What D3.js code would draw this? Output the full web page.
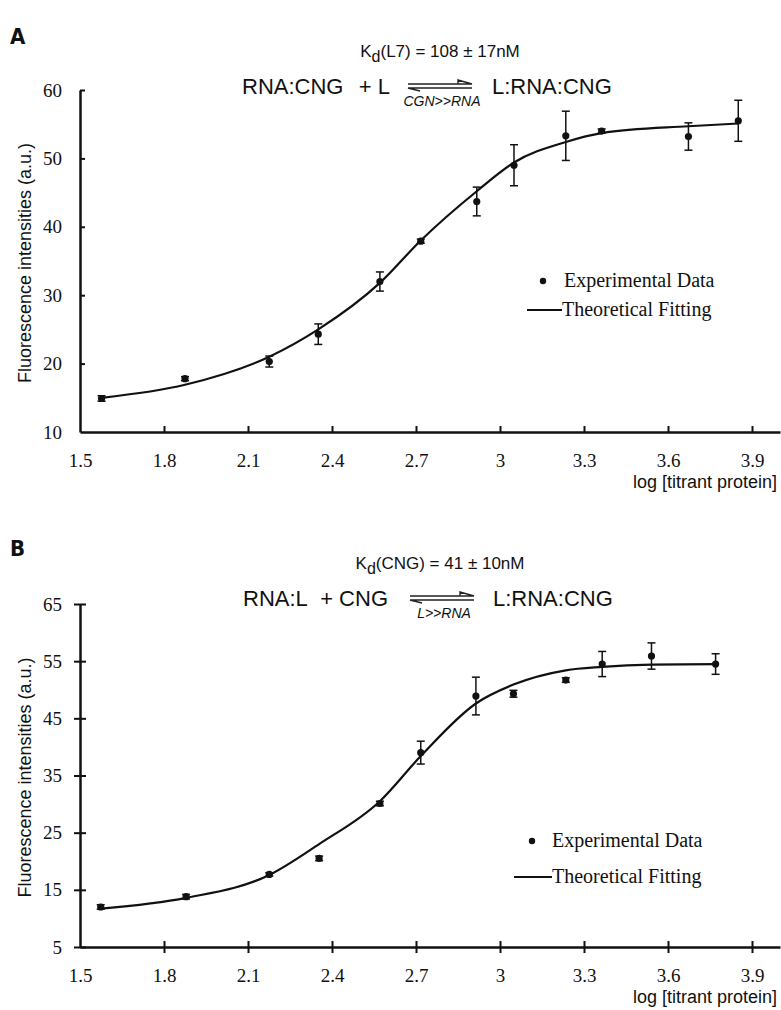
<!DOCTYPE html>
<html>
<head>
<meta charset="utf-8">
<script src="https://cdn.jsdelivr.net/npm/d3@7"></script>
<style>
  body { margin: 0; background: #fff; }
  .tick text { font-family: "Liberation Serif", "Times New Roman", serif; font-size: 19px; fill: #111; }
  .sans { font-family: "Liberation Sans", Arial, sans-serif; fill: #111; }
  .serif { font-family: "Liberation Serif", "Times New Roman", serif; fill: #111; }
</style>
</head>
<body>
<div id="chart"></div>
<script>
// x positions shared by both titrations (log [titrant protein])
const xTicks = [1.5, 1.8, 2.1, 2.4, 2.7, 3, 3.3, 3.6, 3.9];

// Panel A: L7 titration
const xA = [1.577, 1.875, 2.176, 2.351, 2.571, 2.717, 2.917, 3.05, 3.235, 3.363, 3.673, 3.851];
const yA = [14.9, 17.8, 20.3, 24.3, 32.0, 37.9, 43.7, 49.0, 53.3, 54.0, 53.2, 55.5];
const errA = [0.4, 0.3, 0.8, 1.5, 1.4, 0.3, 2.1, 3.0, 3.6, 0.3, 2.0, 3.0];
const fitA = [15.0, 16.9, 21.0, 25.0, 31.8, 38.0, 45.2, 49.4, 52.4, 53.7, 54.7, 55.1];
const yTicksA = [10, 20, 30, 40, 50, 60];

// Panel B: CNG titration
const xB = [1.574, 1.879, 2.176, 2.354, 2.571, 2.717, 2.914, 3.048, 3.235, 3.365, 3.541, 3.77];
const yB = [12.0, 13.8, 17.7, 20.5, 30.1, 39.0, 48.9, 49.3, 51.7, 54.5, 55.9, 54.5];
const errB = [0.4, 0.4, 0.3, 0.4, 0.4, 2.0, 3.3, 0.6, 0.4, 2.2, 2.3, 1.8];
const fitB = [11.7, 13.6, 17.6, 23.0, 30.5, 38.4, 47.6, 50.9, 53.4, 54.0, 54.4, 54.5];
const yTicksB = [5, 15, 25, 35, 45, 55, 65];

const svg = d3.select("#chart").append("svg").attr("width", 781).attr("height", 1010);

const panels = [
  { letter: "A", xs: xA, ys: yA, err: errA, fit: fitA, yTicks: yTicksA,
    y0: 432, y1: 90, eqY: 94,
    kd: "(L7) = 108 ± 17nM", left: "RNA:CNG", plus: "+ L", cond: "CGN>>RNA",
    leftX: 242, plusEnd: 390, arrowX: 408, rightX: 492, crossTicks: false,
    legend: { dotX: 543, dotY: 281, textX: 564, lineX0: 527, lineX1: 562, lineY: 310 } },
  { letter: "B", xs: xB, ys: yB, err: errB, fit: fitB, yTicks: yTicksB,
    y0: 947, y1: 604, eqY: 606,
    kd: "(CNG) = 41 ± 10nM", left: "RNA:L", plus: "+ CNG", cond: "L>>RNA",
    leftX: 243, plusEnd: 388, arrowX: 410, rightX: 493, crossTicks: true,
    legend: { dotX: 532, dotY: 841, textX: 552, lineX0: 514, lineX1: 552, lineY: 877 } }
];

panels.forEach(p => {
  const x = d3.scaleLinear().domain([1.5, 4.0]).range([80, 780]);
  const y = d3.scaleLinear().domain(d3.extent(p.yTicks)).range([p.y0, p.y1]);
  const g = svg.append("g");

  // axes
  const xAxis = d3.axisBottom(x).tickValues(xTicks).tickFormat(d3.format("")).tickSizeOuter(0);
  const yAxis = d3.axisLeft(y).tickValues(p.yTicks).tickSizeOuter(0);
  if (p.crossTicks) {
    xAxis.tickSizeInner(6).tickPadding(16);
    yAxis.tickSizeInner(6).tickPadding(12);
  } else {
    xAxis.tickSizeInner(-6).tickPadding(22);
    yAxis.tickSizeInner(-5).tickPadding(18);
  }
  const gx = g.append("g").attr("transform", `translate(0,${p.y0})`).call(xAxis);
  const gy = g.append("g").attr("transform", "translate(80,0)").call(yAxis);
  [gx, gy].forEach(a => {
    a.select(".domain").attr("stroke", "#111").attr("stroke-width", 2.5);
    a.selectAll(".tick line").attr("stroke", "#111").attr("stroke-width", 2);
  });
  gx.selectAll(".tick").filter(d => d === 1.5).select("line").remove();
  if (p.crossTicks) {
    gx.selectAll(".tick line").attr("y1", -6);
    gy.selectAll(".tick line").attr("x1", 6);
  } else {
    gy.selectAll(".tick").filter(d => d === p.yTicks[0]).select("line").remove();
  }

  // axis titles
  svg.append("text").attr("class", "sans")
    .attr("transform", `translate(31,${(p.y0 + p.y1) / 2 + 2}) rotate(-90)`)
    .attr("text-anchor", "middle").attr("font-size", 18)
    .text("Fluorescence intensities (a.u.)");
  svg.append("text").attr("class", "sans")
    .attr("x", 777).attr("y", p.y0 + 56).attr("text-anchor", "end").attr("font-size", 18)
    .text("log [titrant protein]");

  // panel letter, Kd and reaction scheme
  svg.append("text").attr("x", 10).attr("y", p.eqY - 50)
    .attr("font-family", "'DejaVu Sans Condensed', 'DejaVu Sans', sans-serif")
    .attr("font-weight", "bold").attr("font-size", 22).attr("fill", "#111").text(p.letter);
  const kd = svg.append("text").attr("class", "sans").attr("x", 440).attr("y", p.eqY - 37)
    .attr("text-anchor", "middle").attr("font-size", 17);
  kd.append("tspan").text("K");
  kd.append("tspan").attr("dy", 5).attr("font-size", 16).text("d");
  kd.append("tspan").attr("dy", -5).text(p.kd);

  svg.append("text").attr("class", "sans").attr("x", p.leftX).attr("y", p.eqY)
    .attr("font-size", 22).text(p.left);
  svg.append("text").attr("class", "sans").attr("x", p.plusEnd).attr("y", p.eqY)
    .attr("text-anchor", "end").attr("font-size", 22).text(p.plus);
  svg.append("text").attr("class", "sans").attr("x", p.rightX).attr("y", p.eqY)
    .attr("font-size", 22).text("L:RNA:CNG");
  const ax0 = p.arrowX, ax1 = p.arrowX + 64, ay = p.eqY - 8;
  svg.append("path").attr("fill", "none").attr("stroke", "#222").attr("stroke-width", 1.4)
    .attr("d", `M${ax0},${ay - 2}H${ax1}L${ax1 - 14},${ay - 6}V${ay - 2}`);
  svg.append("path").attr("fill", "none").attr("stroke", "#222").attr("stroke-width", 1.4)
    .attr("d", `M${ax1},${ay + 2}H${ax0}L${ax0 + 12},${ay + 5}`);
  svg.append("text").attr("class", "sans").attr("x", (ax0 + ax1) / 2 + 2).attr("y", p.eqY + 12)
    .attr("text-anchor", "middle").attr("font-size", 14).attr("font-style", "italic").text(p.cond);

  // fitted curve
  const pts = p.xs.map((d, i) => ({ x: d, y: p.ys[i], e: p.err[i], f: p.fit[i] }));
  g.append("path").datum(pts)
    .attr("fill", "none").attr("stroke", "#111").attr("stroke-width", 2.2)
    .attr("d", d3.line().x(d => x(d.x)).y(d => y(d.f)).curve(d3.curveMonotoneX));

  // error bars and points
  const eb = g.selectAll("g.err").data(pts).enter().append("g")
    .attr("stroke", "#111").attr("stroke-width", 1.5);
  eb.append("line").attr("x1", d => x(d.x)).attr("x2", d => x(d.x))
    .attr("y1", d => y(d.y - d.e)).attr("y2", d => y(d.y + d.e));
  eb.append("line").attr("x1", d => x(d.x) - 4).attr("x2", d => x(d.x) + 4)
    .attr("y1", d => y(d.y - d.e)).attr("y2", d => y(d.y - d.e));
  eb.append("line").attr("x1", d => x(d.x) - 4).attr("x2", d => x(d.x) + 4)
    .attr("y1", d => y(d.y + d.e)).attr("y2", d => y(d.y + d.e));
  g.selectAll("circle.pt").data(pts).enter().append("circle")
    .attr("cx", d => x(d.x)).attr("cy", d => y(d.y)).attr("r", 3.6).attr("fill", "#111");

  // legend
  const L = p.legend;
  svg.append("circle").attr("cx", L.dotX).attr("cy", L.dotY).attr("r", 3.2).attr("fill", "#111");
  svg.append("text").attr("class", "serif").attr("x", L.textX).attr("y", L.dotY + 6)
    .attr("font-size", 20).text("Experimental Data");
  svg.append("line").attr("x1", L.lineX0).attr("x2", L.lineX1).attr("y1", L.lineY).attr("y2", L.lineY)
    .attr("stroke", "#111").attr("stroke-width", 2);
  svg.append("text").attr("class", "serif").attr("x", L.lineX1).attr("y", L.lineY + 6)
    .attr("font-size", 20).text("Theoretical Fitting");
});
</script>
</body>
</html>
